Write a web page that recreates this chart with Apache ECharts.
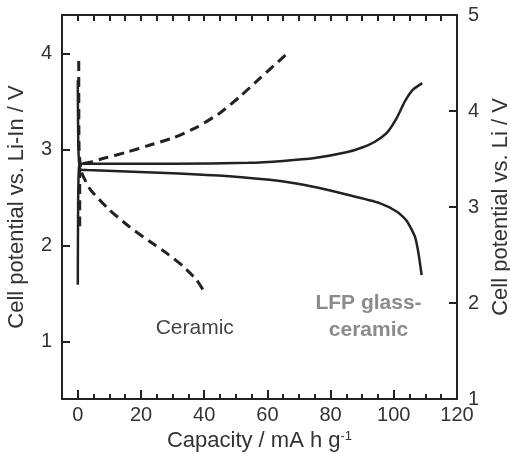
<!DOCTYPE html>
<html>
<head>
<meta charset="utf-8">
<script src="https://cdn.jsdelivr.net/npm/echarts@6/dist/echarts.min.js"></script>
<style>
  html, body { margin: 0; padding: 0; background: #fff; }
  #chart { width: 510px; height: 454px; }
</style>
</head>
<body>
<div id="chart"></div>
<script>
// LFP glass-ceramic (solid), capacity in mA h g-1, potential vs Li-In in V
const lfpChargeCap = [0, 0.1, 0.4, 1.5, 10, 30, 54, 65, 75, 85, 90, 94, 98, 101, 103.5, 106, 109];
const lfpChargeV = [1.59, 2.4, 2.82, 2.85, 2.85, 2.85, 2.86, 2.88, 2.91, 2.97, 3.02, 3.08, 3.18, 3.33, 3.5, 3.62, 3.69];
const lfpDischargeCap = [0, 0.2, 0.8, 3, 32, 48, 64, 74.5, 85, 95.5, 101, 104, 106.7, 107.8, 108.8];
const lfpDischargeV = [3.72, 3.0, 2.79, 2.785, 2.75, 2.72, 2.67, 2.61, 2.53, 2.44, 2.35, 2.26, 2.09, 1.92, 1.69];

// Ceramic (dashed)
const ceramicChargeCap = [0.6, 0.6, 1.5, 4.3, 8.5, 15.4, 22.3, 30.2, 37.6, 45, 51.3, 57.6, 66];
const ceramicChargeV = [2.2, 2.8, 2.85, 2.87, 2.91, 2.97, 3.04, 3.12, 3.23, 3.38, 3.55, 3.74, 3.99];
const ceramicDischargeCap = [0.3, 0.4, 1, 2, 4, 10, 16.5, 22.8, 28.1, 33.4, 37.6, 40.5];
const ceramicDischargeV = [3.92, 3.0, 2.78, 2.7, 2.58, 2.37, 2.19, 2.04, 1.92, 1.78, 1.64, 1.49];

// tick values
const xMajorTicks = [0, 20, 40, 60, 80, 100, 120];
const xMinorTicks = [0, 5, 10, 15, 20, 25, 30, 35, 40, 45, 50, 55, 60, 65, 70, 75, 80, 85, 90, 95, 100, 105, 110, 115];
const leftTicks = [1, 2, 3, 4];
const rightTicks = [2, 3, 4];

// curve annotations
const noteTexts = ['Ceramic', 'LFP glass-\nceramic'];
const noteCap = [37, 92];
const noteV = [1.14, 1.26];

const zip = (xs, ys) => xs.map((x, i) => [x, ys[i]]);

const ink = '#222';
const font = '"Liberation Sans", Arial, Helvetica, sans-serif';
const frame = { show: true, onZero: false, lineStyle: { color: ink, width: 2 } };
const tickLine = { color: ink, width: 2 };

const chart = echarts.init(document.getElementById('chart'), null, { renderer: 'canvas' });

chart.setOption({
  animation: false,
  backgroundColor: '#fff',
  grid: { left: 62, right: 53, top: 15, bottom: 55, outerBoundsMode: 'none' },
  xAxis: [
    {
      type: 'value', min: -5, max: 120, interval: 5, position: 'bottom',
      axisLine: frame,
      axisTick: { show: true, inside: true, length: 9, customValues: xMajorTicks, lineStyle: tickLine },
      axisLabel: { customValues: xMajorTicks, fontSize: 20, margin: 6, color: '#333', fontFamily: font },
      splitLine: { show: false },
      name: 'Capacity / mA h g{sup|-1}',
      nameLocation: 'middle',
      nameGap: 22,
      nameTextStyle: {
        fontSize: 22, color: '#333', fontFamily: font,
        rich: { sup: { fontSize: 13, verticalAlign: 'top', lineHeight: 14, color: '#333', fontFamily: font } }
      }
    },
    {
      // minor ticks every 5 on the bottom edge
      type: 'value', min: -5, max: 120, interval: 5, position: 'bottom',
      axisLine: { show: false, onZero: false },
      axisTick: { show: true, inside: true, length: 5, customValues: xMinorTicks, lineStyle: tickLine },
      axisLabel: { show: false },
      splitLine: { show: false }
    },
    {
      // top frame edge
      type: 'value', min: -5, max: 120, interval: 5, position: 'top',
      axisLine: frame,
      axisTick: { show: true, inside: true, length: 6, customValues: xMinorTicks, lineStyle: tickLine },
      axisLabel: { show: false },
      splitLine: { show: false }
    }
  ],
  yAxis: [
    {
      type: 'value', min: 0.4, max: 4.4, position: 'left',
      axisLine: frame,
      axisTick: { show: true, inside: true, length: 8, customValues: leftTicks, lineStyle: tickLine },
      axisLabel: { customValues: leftTicks, fontSize: 20, margin: 10, color: '#333', fontFamily: font },
      splitLine: { show: false },
      name: 'Cell potential vs. Li-In / V',
      nameLocation: 'middle',
      nameGap: 34,
      nameTextStyle: { fontSize: 22, color: '#333', fontFamily: font }
    },
    {
      type: 'value', min: 1, max: 5, interval: 1, position: 'right',
      axisLine: frame,
      axisTick: { show: true, inside: true, length: 8, customValues: rightTicks, lineStyle: tickLine },
      axisLabel: { fontSize: 20, margin: 11, color: '#333', fontFamily: font },
      splitLine: { show: false },
      name: 'Cell potential vs. Li / V',
      nameLocation: 'middle',
      nameRotate: 90,
      nameGap: 32,
      nameTextStyle: { fontSize: 22, color: '#333', fontFamily: font }
    }
  ],
  series: [
    {
      name: 'LFP charge', type: 'line', data: zip(lfpChargeCap, lfpChargeV),
      showSymbol: false, smooth: 0.2, silent: true,
      lineStyle: { color: ink, width: 2.5 }
    },
    {
      name: 'LFP discharge', type: 'line', data: zip(lfpDischargeCap, lfpDischargeV),
      showSymbol: false, smooth: 0.2, silent: true,
      lineStyle: { color: ink, width: 2.5 }
    },
    {
      name: 'Ceramic charge', type: 'line', data: zip(ceramicChargeCap, ceramicChargeV),
      showSymbol: false, smooth: 0.2, silent: true,
      lineStyle: { color: ink, width: 3, type: [10, 6] }
    },
    {
      name: 'Ceramic discharge', type: 'line', data: zip(ceramicDischargeCap, ceramicDischargeV),
      showSymbol: false, smooth: 0.2, silent: true,
      lineStyle: { color: ink, width: 3, type: [10, 6] }
    },
    {
      name: 'notes', type: 'scatter', symbolSize: 0, silent: true,
      data: noteTexts.map((t, i) => ({
        name: t, value: [noteCap[i], noteV[i]],
        label: i === 1 ? { fontWeight: 'bold', color: '#6e6e6e' } : {}
      })),
      label: {
        show: true, position: 'inside', formatter: p => p.name,
        fontSize: 21, lineHeight: 27, fontFamily: font, color: '#111', align: 'center'
      }
    }
  ]
});
</script>
</body>
</html>
